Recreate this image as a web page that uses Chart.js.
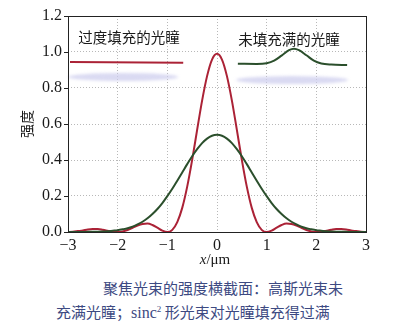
<!DOCTYPE html>
<html>
<head>
<meta charset="utf-8">
<script src="https://cdn.jsdelivr.net/npm/chart.js@4/dist/chart.umd.min.js"></script>
<style>
    html, body { margin: 0; padding: 0; background: #fff; }
    #wrap { position: relative; width: 413px; height: 332px; overflow: hidden; }
    #plot { position: absolute; left: 0; top: 0; width: 413px; height: 270px; }
    .caption {
        position: absolute;
        font-family: 'Noto Sans CJK SC', 'Liberation Serif', serif;
        font-size: 15px;
        color: #3d4a82;
        white-space: nowrap;
        line-height: 18px;
    }
    .caption sup { font-size: 9px; vertical-align: 6px; line-height: 0; }
</style>
</head>
<body>
<div id="wrap">
    <div id="plot"><canvas id="beamChart"></canvas></div>
    <div class="caption" style="left:103px; top:279px;">聚焦光束的强度横截面：高斯光束未</div>
    <div class="caption" style="left:56px; top:303px;">充满光瞳；<span style="font-family:'Liberation Serif',serif;font-size:16px">sinc<sup>2</sup></span> 形光束对光瞳填充得过满</div>
</div>
<script>
// Sample positions along the focal plane (μm)
const positions = [
    -3.0, -2.9, -2.8, -2.7, -2.6, -2.5, -2.4, -2.3, -2.2, -2.1,
    -2.0, -1.9, -1.8, -1.7, -1.6, -1.5, -1.4, -1.3, -1.2, -1.1,
    -1.0, -0.9, -0.8, -0.7, -0.6, -0.5, -0.4, -0.3, -0.2, -0.1,
    0.0, 0.1, 0.2, 0.3, 0.4, 0.5, 0.6, 0.7, 0.8, 0.9,
    1.0, 1.1, 1.2, 1.3, 1.4, 1.5, 1.6, 1.7, 1.8, 1.9,
    2.0, 2.1, 2.2, 2.3, 2.4, 2.5, 2.6, 2.7, 2.8, 2.9, 3.0
];

// Overfilled pupil: sinc^2 profile
const overfilledIntensity = [
    0.000, 0.001, 0.005, 0.009, 0.014, 0.016, 0.016, 0.012, 0.007, 0.002,
    0.000, 0.003, 0.011, 0.023, 0.036, 0.045, 0.047, 0.039, 0.024, 0.008,
    0.000, 0.012, 0.055, 0.134, 0.252, 0.401, 0.567, 0.730, 0.866, 0.958,
    0.990, 0.958, 0.866, 0.730, 0.567, 0.401, 0.252, 0.134, 0.055, 0.012,
    0.000, 0.008, 0.024, 0.039, 0.047, 0.045, 0.036, 0.023, 0.011, 0.003,
    0.000, 0.002, 0.007, 0.012, 0.016, 0.016, 0.014, 0.009, 0.005, 0.001, 0.000
];

// Underfilled pupil: Gaussian profile
const underfilledIntensity = [
    0.000, 0.000, 0.000, 0.000, 0.001, 0.001, 0.002, 0.003, 0.004, 0.007,
    0.010, 0.015, 0.021, 0.030, 0.042, 0.057, 0.076, 0.100, 0.128, 0.161,
    0.199, 0.240, 0.285, 0.331, 0.377, 0.421, 0.460, 0.494, 0.519, 0.535,
    0.540, 0.535, 0.519, 0.494, 0.460, 0.421, 0.377, 0.331, 0.285, 0.240,
    0.199, 0.161, 0.128, 0.100, 0.076, 0.057, 0.042, 0.030, 0.021, 0.015,
    0.010, 0.007, 0.004, 0.003, 0.002, 0.001, 0.001, 0.000, 0.000, 0.000, 0.000
];

// Inset sketches of the beam profiles at the pupil
const flatBeamX = [-2.96, -0.68];
const flatBeamY = [0.945, 0.940];
const bumpBeamX = [0.42, 0.80, 1.00, 1.15, 1.30, 1.45, 1.55, 1.65, 1.80, 1.95, 2.10, 2.30, 2.62];
const bumpBeamY = [0.935, 0.934, 0.938, 0.952, 0.980, 1.010, 1.018, 1.010, 0.982, 0.952, 0.936, 0.930, 0.928];

const yTicks = [0, 0.2, 0.4, 0.6, 0.8, 1.0, 1.2];
const xTicks = [-3, -2, -1, 0, 1, 2, 3];

const RED = '#ab2236';
const GREEN = '#2b4f2c';
const SERIF = "'Liberation Serif', 'DejaVu Serif', serif";
const CJK = "'Noto Sans CJK SC', sans-serif";

const toPoints = (xs, ys) => xs.map((x, i) => ({ x, y: ys[i] }));

// Frame, inset labels, pupil ellipses and the x-axis label
const decorations = {
    id: 'decorations',
    beforeDatasetsDraw(chart) {
        const { ctx, scales: { x, y } } = chart;
        const pupils = [
            { cx: -1.89, cy: 0.861, rx: 55 },
            { cx: 1.51, cy: 0.844, rx: 56 }
        ];
        ctx.save();
        ctx.filter = 'blur(1.5px)';
        ctx.fillStyle = 'rgba(205, 205, 238, 0.75)';
        pupils.forEach(p => {
            ctx.beginPath();
            ctx.ellipse(x.getPixelForValue(p.cx), y.getPixelForValue(p.cy), p.rx, 4, 0, 0, Math.PI * 2);
            ctx.fill();
        });
        ctx.restore();
    },
    afterDraw(chart) {
        const { ctx, chartArea: a, scales: { x, y } } = chart;
        ctx.save();
        ctx.strokeStyle = '#222';
        ctx.lineWidth = 1;
        ctx.strokeRect(Math.round(a.left) + 0.5, Math.round(a.top) + 0.5,
            Math.round(a.right - a.left), Math.round(a.bottom - a.top));

        // short outward ticks on the intensity axis
        yTicks.forEach(v => {
            const py = Math.round(y.getPixelForValue(v)) + 0.5;
            ctx.beginPath();
            ctx.moveTo(a.left - 4, py);
            ctx.lineTo(a.left, py);
            ctx.stroke();
        });

        ctx.fillStyle = '#1a1a1a';
        ctx.font = '14.5px ' + CJK;
        ctx.textAlign = 'center';
        ctx.textBaseline = 'middle';
        ctx.fillText('过度填充的光瞳', x.getPixelForValue(-1.77), y.getPixelForValue(1.083));
        ctx.fillText('未填充满的光瞳', x.getPixelForValue(1.45), y.getPixelForValue(1.072));

        // x/μm with an italic variable
        const cx = x.getPixelForValue(0) - 2;
        const cy = a.bottom + 28;
        ctx.textAlign = 'left';
        ctx.font = 'italic 15px ' + SERIF;
        const wx = ctx.measureText('x').width;
        ctx.font = '15px ' + SERIF;
        const wr = ctx.measureText('/μm').width;
        const start = cx - (wx + wr) / 2;
        ctx.font = 'italic 15px ' + SERIF;
        ctx.fillText('x', start, cy);
        ctx.font = '15px ' + SERIF;
        ctx.fillText('/μm', start + wx, cy);
        ctx.restore();
    }
};

const lineStyle = {
    pointRadius: 0,
    borderWidth: 2,
    fill: false,
    cubicInterpolationMode: 'monotone'
};

new Chart(document.getElementById('beamChart'), {
    type: 'line',
    data: {
        datasets: [
            { ...lineStyle, label: 'Gaussian', data: toPoints(positions, underfilledIntensity), borderColor: GREEN },
            { ...lineStyle, label: 'sinc²', data: toPoints(positions, overfilledIntensity), borderColor: RED },
            { ...lineStyle, label: 'flat', data: toPoints(flatBeamX, flatBeamY), borderColor: RED },
            { ...lineStyle, label: 'bump', data: toPoints(bumpBeamX, bumpBeamY), borderColor: GREEN }
        ]
    },
    options: {
        responsive: true,
        maintainAspectRatio: false,
        animation: false,
        layout: { padding: { top: 16, right: 47, bottom: 0, left: 0 } },
        plugins: {
            legend: { display: false },
            tooltip: { enabled: false }
        },
        scales: {
            x: {
                type: 'linear',
                min: -3,
                max: 3,
                afterBuildTicks: scale => { scale.ticks = xTicks.map(value => ({ value })); },
                afterFit: scale => { scale.height = 38; },
                ticks: {
                    color: '#1a1a1a',
                    font: { family: SERIF, size: 16 },
                    padding: 4,
                    maxRotation: 0,
                    callback: v => (v < 0 ? '\u2212' + Math.abs(v) : String(v))
                },
                grid: { color: '#b8b8b8', tickLength: 0, drawTicks: false },
                border: { display: false, dash: [1, 2] }
            },
            y: {
                min: 0,
                max: 1.2,
                afterBuildTicks: scale => { scale.ticks = yTicks.map(value => ({ value })); },
                afterFit: scale => { scale.width = 68; },
                ticks: {
                    color: '#1a1a1a',
                    font: { family: SERIF, size: 16 },
                    padding: 6,
                    callback: v => v.toFixed(1)
                },
                grid: { color: '#b8b8b8', drawTicks: false },
                border: { display: false, dash: [1, 2] },
                title: {
                    display: true,
                    text: '强度',
                    color: '#1a1a1a',
                    font: { family: CJK, size: 14 },
                    padding: { top: 18, bottom: 0 }
                }
            }
        }
    },
    plugins: [decorations]
});
</script>
</body>
</html>
